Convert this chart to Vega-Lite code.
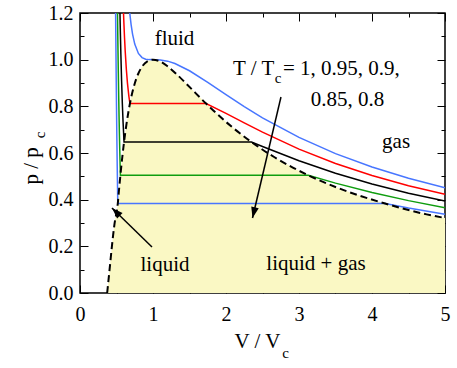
{
  "$schema": "https://vega.github.io/schema/vega-lite/v6.json",
  "width": 365,
  "height": 280,
  "autosize": {"type": "none"},
  "padding": {"left": 80, "top": 13, "right": 12, "bottom": 75},
  "background": "white",
  "config": {
    "view": {"stroke": "black", "strokeWidth": 1.5},
    "font": "'Liberation Serif', 'Times New Roman', Times, serif",
    "axis": {"labelFont": "'Liberation Serif', 'Times New Roman', Times, serif", "labelFontSize": 20, "labelColor": "black", "tickColor": "black", "tickWidth": 1, "domain": false, "grid": false, "labelOverlap": false, "labelFlush": false, "title": null},
    "text": {"font": "'Liberation Serif', 'Times New Roman', Times, serif"}
  },
  "datasets": {
    "binodal": [
      {"v": 0.372, "p": 0}, {"v": 0.405, "p": 0.1}, {"v": 0.437, "p": 0.2}, {"v": 0.47, "p": 0.29},
      {"v": 0.5175, "p": 0.3834}, {"v": 0.5372, "p": 0.4517}, {"v": 0.5534, "p": 0.5045}, {"v": 0.5791, "p": 0.5818},
      {"v": 0.6034, "p": 0.647}, {"v": 0.6665, "p": 0.7821}, {"v": 0.684, "p": 0.8119}, {"v": 0.7479, "p": 0.8956},
      {"v": 0.798, "p": 0.9397}, {"v": 0.8558, "p": 0.9727}, {"v": 0.9226, "p": 0.9931}, {"v": 1.0, "p": 1.0},
      {"v": 1.09, "p": 0.9931}, {"v": 1.1947, "p": 0.9727}, {"v": 1.3171, "p": 0.9397}, {"v": 1.4603, "p": 0.8956},
      {"v": 1.727, "p": 0.8119}, {"v": 1.8265, "p": 0.7821}, {"v": 2.3488, "p": 0.647}, {"v": 2.6651, "p": 0.5818},
      {"v": 3.1276, "p": 0.5045}, {"v": 3.5218, "p": 0.4517}, {"v": 4.18, "p": 0.3834}, {"v": 4.7482, "p": 0.337},
      {"v": 5.0, "p": 0.3214}
    ],
    "iso": [
      {"T": "1", "v": 0.66, "p": 1.2762}, {"T": "1", "v": 0.68, "p": 1.2044}, {"T": "1", "v": 0.7, "p": 1.1503},
      {"T": "1", "v": 0.72, "p": 1.1095}, {"T": "1", "v": 0.75, "p": 1.0667}, {"T": "1", "v": 0.8, "p": 1.0268},
      {"T": "1", "v": 0.85, "p": 1.009}, {"T": "1", "v": 0.9, "p": 1.0022}, {"T": "1", "v": 0.95, "p": 1.0002},
      {"T": "1", "v": 1.0, "p": 1.0}, {"T": "1", "v": 1.1, "p": 0.9989}, {"T": "1", "v": 1.2, "p": 0.9936},
      {"T": "1", "v": 1.3, "p": 0.9835}, {"T": "1", "v": 1.5, "p": 0.9524}, {"T": "1", "v": 1.75, "p": 0.9028},
      {"T": "1", "v": 2.0, "p": 0.85}, {"T": "1", "v": 2.25, "p": 0.7987}, {"T": "1", "v": 2.5, "p": 0.7508},
      {"T": "1", "v": 3.0, "p": 0.6667}, {"T": "1", "v": 3.5, "p": 0.5972}, {"T": "1", "v": 4.0, "p": 0.5398},
      {"T": "1", "v": 4.5, "p": 0.4919}, {"T": "1", "v": 5.0, "p": 0.4514},
      {"T": "0.95", "v": 0.58, "p": 1.3523}, {"T": "0.95", "v": 0.59, "p": 1.2519}, {"T": "0.95", "v": 0.6, "p": 1.1667},
      {"T": "0.95", "v": 0.61, "p": 1.0943}, {"T": "0.95", "v": 0.62, "p": 1.0328}, {"T": "0.95", "v": 0.635, "p": 0.9578},
      {"T": "0.95", "v": 0.65, "p": 0.8994}, {"T": "0.95", "v": 0.67, "p": 0.8418}, {"T": "0.95", "v": 0.684, "p": 0.8119},
      {"T": "0.95", "v": 1.727, "p": 0.8119}, {"T": "0.95", "v": 2.0, "p": 0.77}, {"T": "0.95", "v": 2.25, "p": 0.7292},
      {"T": "0.95", "v": 2.5, "p": 0.6892}, {"T": "0.95", "v": 3.0, "p": 0.6167}, {"T": "0.95", "v": 3.5, "p": 0.5551},
      {"T": "0.95", "v": 4.0, "p": 0.5034}, {"T": "0.95", "v": 4.5, "p": 0.4599}, {"T": "0.95", "v": 5.0, "p": 0.4229},
      {"T": "0.9", "v": 0.54, "p": 1.3248}, {"T": "0.9", "v": 0.545, "p": 1.2384}, {"T": "0.9", "v": 0.55, "p": 1.1595},
      {"T": "0.9", "v": 0.56, "p": 1.0219}, {"T": "0.9", "v": 0.57, "p": 0.9072}, {"T": "0.9", "v": 0.58, "p": 0.8118},
      {"T": "0.9", "v": 0.59, "p": 0.7324}, {"T": "0.9", "v": 0.6034, "p": 0.647}, {"T": "0.9", "v": 2.3488, "p": 0.647},
      {"T": "0.9", "v": 2.5, "p": 0.6277}, {"T": "0.9", "v": 3.0, "p": 0.5667}, {"T": "0.9", "v": 3.5, "p": 0.513},
      {"T": "0.9", "v": 4.0, "p": 0.4671}, {"T": "0.9", "v": 4.5, "p": 0.4279}, {"T": "0.9", "v": 5.0, "p": 0.3943},
      {"T": "0.85", "v": 0.505, "p": 1.4403}, {"T": "0.85", "v": 0.51, "p": 1.2962}, {"T": "0.85", "v": 0.515, "p": 1.166},
      {"T": "0.85", "v": 0.52, "p": 1.0482}, {"T": "0.85", "v": 0.525, "p": 0.9417}, {"T": "0.85", "v": 0.53, "p": 0.8454},
      {"T": "0.85", "v": 0.535, "p": 0.7584}, {"T": "0.85", "v": 0.54, "p": 0.6796}, {"T": "0.85", "v": 0.545, "p": 0.6085},
      {"T": "0.85", "v": 0.55, "p": 0.5441}, {"T": "0.85", "v": 0.5534, "p": 0.5045}, {"T": "0.85", "v": 3.1276, "p": 0.5045},
      {"T": "0.85", "v": 3.5, "p": 0.4709}, {"T": "0.85", "v": 4.0, "p": 0.4307}, {"T": "0.85", "v": 4.5, "p": 0.3959},
      {"T": "0.85", "v": 5.0, "p": 0.3657},
      {"T": "0.8", "v": 0.48, "p": 1.5247}, {"T": "0.8", "v": 0.485, "p": 1.3121}, {"T": "0.8", "v": 0.49, "p": 1.1222},
      {"T": "0.8", "v": 0.495, "p": 0.9522}, {"T": "0.8", "v": 0.5, "p": 0.8}, {"T": "0.8", "v": 0.505, "p": 0.6636},
      {"T": "0.8", "v": 0.51, "p": 0.5415}, {"T": "0.8", "v": 0.5175, "p": 0.3834}, {"T": "0.8", "v": 4.18, "p": 0.3834},
      {"T": "0.8", "v": 4.5, "p": 0.3639}, {"T": "0.8", "v": 5.0, "p": 0.3371}
    ],
    "arrows": [
      {"id": "a", "v": 2.753, "p": 0.84, "v2": 2.363, "p2": 0.3215},
      {"id": "b", "v": 0.986, "p": 0.197, "v2": 0.438, "p2": 0.364}
    ],
    "labels": [
      {"text": "fluid", "v": 1.295, "p": 1.063},
      {"text": "gas", "v": 4.33, "p": 0.6215},
      {"text": "liquid", "v": 1.164, "p": 0.0956},
      {"text": "liquid + gas", "v": 3.233, "p": 0.1},
      {"text": "V / V", "v": 2.432, "p": -0.2357}
    ],
    "leftlabels": [
      {"text": "T / T", "v": 2.096, "p": 0.934},
      {"text": "= 1, 0.95, 0.9,", "v": 2.78, "p": 0.934},
      {"text": "0.85, 0.8", "v": 3.16, "p": 0.8015}
    ],
    "subs": [
      {"text": "c", "v": 2.712, "p": 0.9},
      {"text": "c", "v": 2.815, "p": -0.2786}
    ],
    "ytitle": [
      {"text": "p / p", "v": -0.575, "p": 0.545}
    ],
    "ysub": [
      {"text": "c", "v": -0.479, "p": 0.677}
    ]
  },
  "layer": [
    {
      "data": {"name": "binodal"},
      "mark": {"type": "area", "color": "#FAF8C4", "interpolate": "monotone"},
      "encoding": {
        "x": {"field": "v", "type": "quantitative", "scale": {"domain": [0, 5], "nice": false, "zero": false},
          "axis": {"orient": "bottom", "values": [0, 0.5, 1, 1.5, 2, 2.5, 3, 3.5, 4, 4.5, 5], "format": ".0f",
            "labelExpr": "datum.value % 1 === 0 ? datum.label : ''",
            "tickSize": {"condition": {"test": "datum.value % 1 === 0", "value": -8}, "value": -4},
            "labelPadding": 19}},
        "y": {"field": "p", "type": "quantitative", "scale": {"domain": [0, 1.2], "nice": false, "zero": false},
          "axis": {"orient": "left", "values": [0, 0.1, 0.2, 0.3, 0.4, 0.5, 0.6, 0.7, 0.8, 0.9, 1.0, 1.1, 1.2], "format": ".1f",
            "labelExpr": "round(datum.value * 10) % 2 === 0 ? datum.label : ''",
            "tickSize": {"condition": {"test": "round(datum.value * 10) % 2 === 0", "value": -8}, "value": -4},
            "labelPadding": 15}}
      }
    },
    {
      "data": {"name": "iso"},
      "mark": {"type": "line", "strokeWidth": 1.5, "clip": true},
      "encoding": {
        "x": {"field": "v", "type": "quantitative", "scale": {"domain": [0, 5], "nice": false, "zero": false},
          "axis": {"orient": "top", "values": [0, 0.5, 1, 1.5, 2, 2.5, 3, 3.5, 4, 4.5, 5], "labels": false,
            "tickSize": {"condition": {"test": "datum.value % 1 === 0", "value": -8}, "value": -4}}},
        "y": {"field": "p", "type": "quantitative", "scale": {"domain": [0, 1.2], "nice": false, "zero": false},
          "axis": {"orient": "right", "values": [0, 0.1, 0.2, 0.3, 0.4, 0.5, 0.6, 0.7, 0.8, 0.9, 1.0, 1.1, 1.2], "labels": false,
            "tickSize": {"condition": {"test": "round(datum.value * 10) % 2 === 0", "value": -8}, "value": -4}}},
        "color": {"field": "T", "type": "nominal", "legend": null,
          "scale": {"domain": ["1", "0.95", "0.9", "0.85", "0.8"], "range": ["#4876FF", "#FF0000", "#000000", "#0F9D0F", "#4876FF"]}},
        "detail": {"field": "T"}
      }
    },
    {
      "data": {"name": "binodal"},
      "mark": {"type": "line", "color": "black", "strokeWidth": 2, "strokeDash": [7, 4], "interpolate": "monotone", "clip": true},
      "encoding": {
        "x": {"field": "v", "type": "quantitative", "scale": {"domain": [0, 5], "nice": false, "zero": false}, "axis": null},
        "y": {"field": "p", "type": "quantitative", "scale": {"domain": [0, 1.2], "nice": false, "zero": false}, "axis": null}
      }
    },
    {
      "data": {"name": "arrows"},
      "mark": {"type": "rule", "color": "black", "strokeWidth": 1.5},
      "encoding": {
        "x": {"field": "v", "type": "quantitative", "scale": {"domain": [0, 5], "nice": false, "zero": false}, "axis": null},
        "y": {"field": "p", "type": "quantitative", "scale": {"domain": [0, 1.2], "nice": false, "zero": false}, "axis": null},
        "x2": {"field": "v2"},
        "y2": {"field": "p2"}
      }
    },
    {
      "data": {"name": "arrows"},
      "transform": [{"filter": "datum.id === 'a'"}],
      "mark": {"type": "point", "shape": "M0,0L-0.35,1L0.35,1Z", "filled": true, "color": "black", "opacity": 1, "size": 484, "angle": 193.2},
      "encoding": {
        "x": {"field": "v2", "type": "quantitative", "scale": {"domain": [0, 5], "nice": false, "zero": false}, "axis": null},
        "y": {"field": "p2", "type": "quantitative", "scale": {"domain": [0, 1.2], "nice": false, "zero": false}, "axis": null}
      }
    },
    {
      "data": {"name": "arrows"},
      "transform": [{"filter": "datum.id === 'b'"}],
      "mark": {"type": "point", "shape": "M0,0L-0.35,1L0.35,1Z", "filled": true, "color": "black", "opacity": 1, "size": 484, "angle": 314.3},
      "encoding": {
        "x": {"field": "v2", "type": "quantitative", "scale": {"domain": [0, 5], "nice": false, "zero": false}, "axis": null},
        "y": {"field": "p2", "type": "quantitative", "scale": {"domain": [0, 1.2], "nice": false, "zero": false}, "axis": null}
      }
    },
    {
      "data": {"name": "labels"},
      "mark": {"type": "text", "fontSize": 21, "align": "center", "baseline": "alphabetic", "color": "black"},
      "encoding": {
        "x": {"field": "v", "type": "quantitative", "scale": {"domain": [0, 5], "nice": false, "zero": false}, "axis": null},
        "y": {"field": "p", "type": "quantitative", "scale": {"domain": [0, 1.2], "nice": false, "zero": false}, "axis": null},
        "text": {"field": "text"}
      }
    },
    {
      "data": {"name": "leftlabels"},
      "mark": {"type": "text", "fontSize": 21, "align": "left", "baseline": "alphabetic", "color": "black"},
      "encoding": {
        "x": {"field": "v", "type": "quantitative", "scale": {"domain": [0, 5], "nice": false, "zero": false}, "axis": null},
        "y": {"field": "p", "type": "quantitative", "scale": {"domain": [0, 1.2], "nice": false, "zero": false}, "axis": null},
        "text": {"field": "text"}
      }
    },
    {
      "data": {"name": "subs"},
      "mark": {"type": "text", "fontSize": 15, "align": "center", "baseline": "alphabetic", "color": "black"},
      "encoding": {
        "x": {"field": "v", "type": "quantitative", "scale": {"domain": [0, 5], "nice": false, "zero": false}, "axis": null},
        "y": {"field": "p", "type": "quantitative", "scale": {"domain": [0, 1.2], "nice": false, "zero": false}, "axis": null},
        "text": {"field": "text"}
      }
    },
    {
      "data": {"name": "ytitle"},
      "mark": {"type": "text", "fontSize": 21, "align": "center", "baseline": "alphabetic", "angle": 270, "color": "black"},
      "encoding": {
        "x": {"field": "v", "type": "quantitative", "scale": {"domain": [0, 5], "nice": false, "zero": false}, "axis": null},
        "y": {"field": "p", "type": "quantitative", "scale": {"domain": [0, 1.2], "nice": false, "zero": false}, "axis": null},
        "text": {"field": "text"}
      }
    },
    {
      "data": {"name": "ysub"},
      "mark": {"type": "text", "fontSize": 15, "align": "center", "baseline": "alphabetic", "angle": 270, "color": "black"},
      "encoding": {
        "x": {"field": "v", "type": "quantitative", "scale": {"domain": [0, 5], "nice": false, "zero": false}, "axis": null},
        "y": {"field": "p", "type": "quantitative", "scale": {"domain": [0, 1.2], "nice": false, "zero": false}, "axis": null},
        "text": {"field": "text"}
      }
    }
  ],
  "resolve": {"axis": {"x": "independent", "y": "independent"}}
}
